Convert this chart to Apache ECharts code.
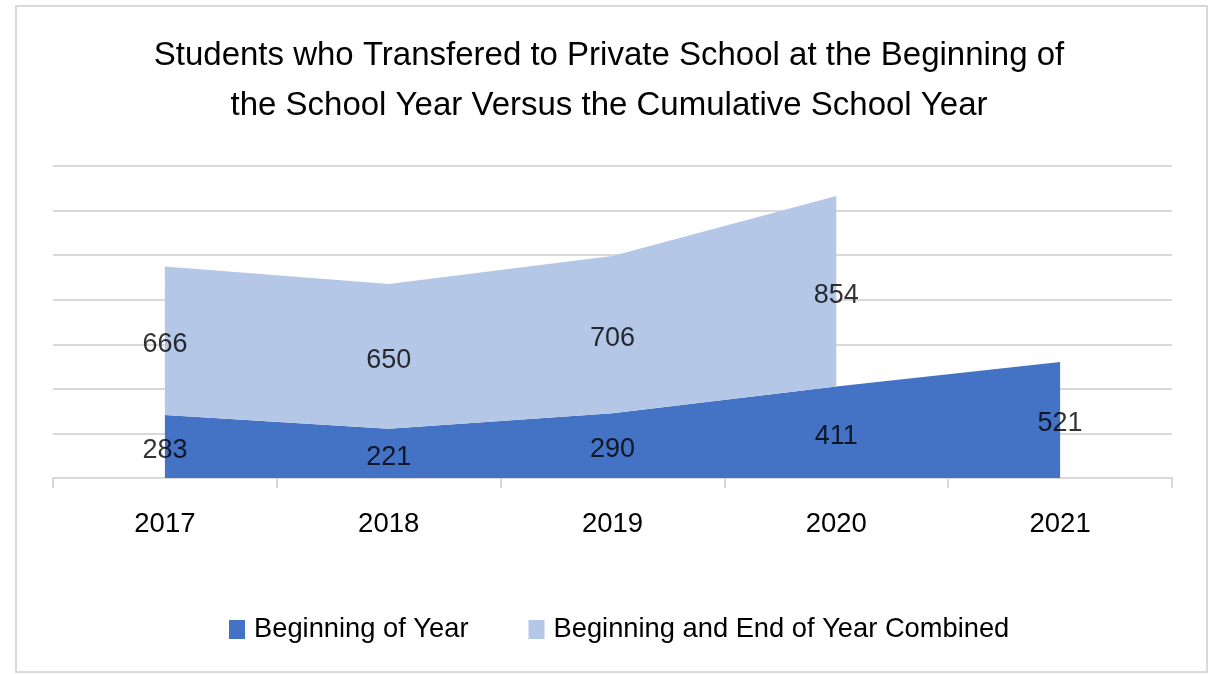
<!DOCTYPE html>
<html>
<head>
<meta charset="utf-8">
<script src="https://cdn.jsdelivr.net/npm/echarts@6/dist/echarts.min.js"></script>
<style>
  html, body { margin: 0; padding: 0; background: #fff; }
  #chart { width: 1218px; height: 674px; }
</style>
</head>
<body>
<div id="chart"></div>
<script>
const years = ['2017', '2018', '2019', '2020', '2021'];
const beginning = [283, 221, 290, 411, 521];
const combined = [666, 650, 706, 854, null];

const FONT = 'Liberation Sans';
const DARK = '#4472C4';
const LIGHT = '#B4C7E7';

// label points sit in the middle of each stacked band
const beginLabels = years.map((y, i) => [y, beginning[i] / 2, beginning[i]]);
const combinedLabels = years
  .map((y, i) => combined[i] == null ? null : [y, beginning[i] + combined[i] / 2, combined[i]])
  .filter(d => d);

const labelSeries = (data) => ({
  type: 'scatter',
  data: data,
  symbolSize: 0,
  silent: true,
  z: 5,
  label: {
    show: true,
    position: 'inside',
    offset: [0, 4],
    formatter: p => p.data[2],
    fontFamily: FONT,
    fontSize: 27,
    color: '#000'
  }
});

const chart = echarts.init(document.getElementById('chart'));
chart.setOption({
  animation: false,
  title: {
    text: 'Students who Transfered to Private School at the Beginning of\nthe School Year Versus the Cumulative School Year',
    left: 'center',
    top: 26,
    textStyle: {
      fontFamily: FONT,
      fontSize: 33,
      fontWeight: 'normal',
      color: '#000',
      lineHeight: 50
    }
  },
  graphic: [{
    type: 'rect',
    shape: { x: 16, y: 6, width: 1191, height: 666 },
    style: { fill: 'none', stroke: '#d9d9d9', lineWidth: 2 },
    silent: true
  }],
  legend: {
    bottom: 26,
    left: 224,
    itemWidth: 16,
    itemHeight: 19,
    itemGap: 60,
    icon: 'rect',
    data: ['Beginning of Year', 'Beginning and End of Year Combined'],
    textStyle: { fontFamily: FONT, fontSize: 27.3, color: '#000', padding: [0, 0, 0, 4] }
  },
  grid: { left: 53, right: 46, top: 166, bottom: 196, containLabel: false },
  xAxis: {
    type: 'category',
    data: years,
    boundaryGap: true,
    axisLine: { lineStyle: { color: '#d9d9d9', width: 2 } },
    axisTick: { show: true, length: 10, lineStyle: { color: '#d9d9d9', width: 2 } },
    axisLabel: { fontFamily: FONT, fontSize: 27.5, color: '#000', margin: 32 }
  },
  yAxis: {
    type: 'value',
    min: 0,
    max: 1400,
    interval: 200,
    axisLabel: { show: false },
    axisLine: { show: false },
    axisTick: { show: false },
    splitLine: { lineStyle: { color: '#d9d9d9', width: 2 } }
  },
  series: [
    {
      name: 'Beginning of Year',
      type: 'line',
      stack: 'total',
      data: beginning,
      symbol: 'none',
      lineStyle: { width: 0 },
      itemStyle: { color: DARK },
      areaStyle: { color: DARK, opacity: 1 }
    },
    {
      name: 'Beginning and End of Year Combined',
      type: 'line',
      stack: 'total',
      data: combined.map(v => v == null ? '-' : v),
      symbol: 'none',
      lineStyle: { width: 0 },
      itemStyle: { color: LIGHT },
      areaStyle: { color: LIGHT, opacity: 1 }
    },
    labelSeries(beginLabels),
    labelSeries(combinedLabels)
  ]
});
</script>
</body>
</html>
